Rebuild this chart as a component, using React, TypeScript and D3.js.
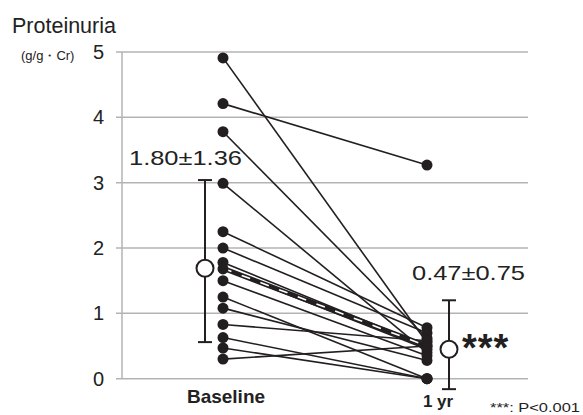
import React from 'react';
import * as d3 from 'd3';

// time points
const timepoints = ['Baseline', '1 yr'];

// individual patients, proteinuria (g/g·Cr)
const baselineValues = [4.91, 4.21, 3.78, 2.99, 2.25, 2.0, 1.78, 1.68, 1.5, 1.25, 1.08, 0.83, 0.63, 0.47, 0.3];
const oneYearValues = [0.55, 3.27, 0.62, 0.4, 0.78, 0.7, 0.5, 0.45, 0.35, 0, 0.28, 0.58, 0, 0, 0.5];

// mean ± SD as drawn
const meanValues = [1.69, 0.45];
const sdLow = [0.56, -0.16];
const sdHigh = [3.04, 1.2];
const meanLabels = ['1.80±1.36', '0.47±0.75'];

const yTicks = [0, 1, 2, 3, 4, 5];

const W = 583;
const H = 415;
const font = "'Liberation Sans', Arial, sans-serif";
const ink = '#231f20';

const App = () => {
  const x = d3.scalePoint<string>().domain(timepoints).range([223, 427]);
  const y = d3.scaleLinear().domain([0, 5]).range([378.7, 52]);

  const xb = x('Baseline') as number;
  const x1 = x('1 yr') as number;
  const meanX = [xb - 18, x1 + 22];

  const pairs = baselineValues.map((b, i) => ({ b, a: oneYearValues[i] }));
  const line = d3.line<[number, number]>().x(d => d[0]).y(d => d[1]);
  const trend = line([[xb, y(meanValues[0])], [x1, y(meanValues[1] + 0.05)]]) || '';

  return (
    <svg width={W} height={H} style={{ position: 'absolute', left: 0, top: 0, background: '#fff' }}>
      {/* grid */}
      {yTicks.map(t => (
        <g key={t}>
          <line x1={116} x2={528} y1={y(t)} y2={y(t)} stroke="#b3b3b3" strokeWidth={1.5} />
          <text x={104} y={y(t) + 7} textAnchor="end" fontFamily={font} fontSize={20} fill="#222">{t}</text>
        </g>
      ))}
      <line x1={122} x2={122} y1={y(5)} y2={y(0)} stroke="#b3b3b3" strokeWidth={1.5} />

      <text x={12} y={33} fontFamily={font} fontSize={21.5} fill="#222">Proteinuria</text>
      <text x={21} y={60} fontFamily={font} fontSize={13} fill="#222">(g/g・Cr)</text>

      {/* patient lines */}
      {pairs.map((p, i) => (
        <path key={i} d={line([[xb, y(p.b)], [x1, y(p.a)]]) || ''} stroke={ink} strokeWidth={1.6} fill="none" />
      ))}

      {/* mean trend */}
      <path d={trend} stroke={ink} strokeWidth={5} fill="none" />
      <path d={trend} stroke="#fff" strokeWidth={1.6} strokeDasharray="9,11" fill="none" />

      {pairs.map((p, i) => (
        <g key={i}>
          <circle cx={xb} cy={y(p.b)} r={5.5} fill={ink} />
          <circle cx={x1} cy={y(p.a)} r={5.5} fill={ink} />
        </g>
      ))}

      {/* mean ± SD */}
      {meanValues.map((m, i) => (
        <g key={i}>
          <line x1={meanX[i]} x2={meanX[i]} y1={y(sdLow[i])} y2={y(sdHigh[i])} stroke={ink} strokeWidth={2} />
          <line x1={meanX[i] - 7} x2={meanX[i] + 7} y1={y(sdLow[i])} y2={y(sdLow[i])} stroke={ink} strokeWidth={2} />
          <line x1={meanX[i] - 7} x2={meanX[i] + 7} y1={y(sdHigh[i])} y2={y(sdHigh[i])} stroke={ink} strokeWidth={2} />
          <circle cx={meanX[i]} cy={y(m)} r={8.5} fill="#fff" stroke={ink} strokeWidth={2} />
        </g>
      ))}

      <text x={129} y={165} fontFamily={font} fontSize={21} fill="#222" textLength={113} lengthAdjust="spacingAndGlyphs">{meanLabels[0]}</text>
      <text x={412} y={280} fontFamily={font} fontSize={21} fill="#222" textLength={113} lengthAdjust="spacingAndGlyphs">{meanLabels[1]}</text>

      <text x={462} y={361} fontFamily={font} fontSize={38} fontWeight="bold" fill={ink} letterSpacing={1}>***</text>

      {timepoints.map((t, i) => (
        <text key={t} x={i === 0 ? 226 : 438} y={i === 0 ? 403 : 407} textAnchor="middle"
          fontFamily={font} fontSize={i === 0 ? 19 : 17} fontWeight="bold" fill="#222">{t}</text>
      ))}

      <text x={490} y={412} fontFamily={font} fontSize={13} fill="#222" textLength={90} lengthAdjust="spacingAndGlyphs">***: P&lt;0.001</text>
    </svg>
  );
};

export default App;
